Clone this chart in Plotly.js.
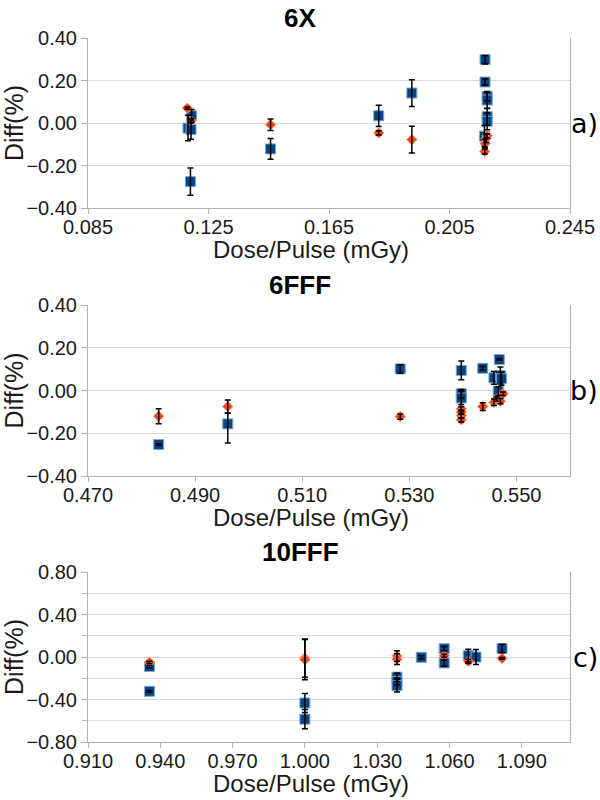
<!DOCTYPE html>
<html>
<head>
<meta charset="utf-8">
<script src="https://cdn.plot.ly/plotly-3.0.1.min.js"></script>
<style>
  html, body { margin: 0; padding: 0; background: #fff; }
  #chart { width: 600px; height: 800px; }
</style>
</head>
<body>
<div id="chart"></div>
<script>
// panel a) 6X
const blueA_x = [0.1182, 0.1192, 0.1194, 0.1190, 0.1456, 0.1815, 0.1925, 0.2168, 0.2168, 0.2175, 0.2175, 0.2175, 0.2175, 0.2166];
const blueA_y = [-0.024, -0.031, 0.034, -0.276, -0.122, 0.034, 0.141, 0.298, 0.193, 0.125, 0.108, 0.030, 0.008, -0.062];
const blueA_e = [0.060, 0.045, 0.030, 0.064, 0.049, 0.050, 0.063, 0.020, 0.015, 0.020, 0.040, 0.040, 0.040, 0.050];
const redA_x = [0.1180, 0.1192, 0.1456, 0.1815, 0.1925, 0.2175, 0.2172, 0.2168, 0.2167];
const redA_y = [0.070, 0.010, -0.008, -0.047, -0.078, -0.060, -0.072, -0.097, -0.134];
const redA_e = [0.005, 0.010, 0.027, 0.010, 0.063, 0.010, 0.020, 0.020, 0.012];

// panel b) 6FFF
const blueB_x = [0.4832, 0.4961, 0.5283, 0.5397, 0.5397, 0.5397, 0.5437, 0.5458, 0.5468, 0.5470, 0.5472, 0.5466];
const blueB_y = [-0.253, -0.156, 0.101, 0.094, -0.015, -0.035, 0.104, 0.059, 0.145, 0.070, 0.055, -0.003];
const blueB_ep = [0.004, 0.050, 0.020, 0.044, 0.020, 0.030, 0.008, 0.030, 0.004, 0.040, 0.030, 0.020];
const blueB_em = [0.004, 0.090, 0.020, 0.044, 0.020, 0.030, 0.008, 0.030, 0.004, 0.040, 0.030, 0.020];
const redB_x = [0.4832, 0.4961, 0.5283, 0.5397, 0.5397, 0.5397, 0.5397, 0.5437, 0.5458, 0.5463, 0.5470, 0.5475];
const redB_y = [-0.120, -0.075, -0.122, -0.086, -0.101, -0.117, -0.137, -0.075, -0.055, -0.040, -0.050, -0.015];
const redB_e = [0.035, 0.031, 0.012, 0.010, 0.010, 0.010, 0.010, 0.018, 0.015, 0.010, 0.012, 0.008];

// panel c) 10FFF
const blueC_x = [0.9355, 0.9355, 1.0000, 1.0000, 1.0382, 1.0382, 1.0382, 1.0483, 1.0578, 1.0578, 1.0678, 1.0710, 1.0818];
const blueC_y = [-0.090, -0.323, -0.433, -0.585, -0.190, -0.230, -0.270, -0.003, 0.078, -0.056, 0.012, 0.000, 0.080];
const blueC_e = [0.010, 0.008, 0.090, 0.090, 0.040, 0.030, 0.060, 0.015, 0.020, 0.030, 0.060, 0.070, 0.040];
const redC_x = [0.9355, 1.0000, 1.0000, 1.0382, 1.0382, 1.0578, 1.0678, 1.0818];
const redC_y = [-0.050, -0.010, -0.025, 0.010, -0.020, 0.012, -0.040, -0.013];
const redC_e = [0.010, 0.180, 0.190, 0.050, 0.050, 0.015, 0.020, 0.008];

const panelTitles = ['6X', '6FFF', '10FFF'];
const panelLabels = ['a)', 'b)', 'c)'];
const xTitle = 'Dose/Pulse (mGy)';
const yTitle = 'Diff(%)';

const blue = '#004586';
const red = '#ff420e';
const font = 'Liberation Sans, Arial, sans-serif';
const textColor = '#1a1a1a';

function errBars(plus, minus) {
  const e = {type: 'data', array: plus, visible: true, color: '#000', thickness: 1.5, width: 3};
  if (minus) { e.symmetric = false; e.arrayminus = minus; }
  return e;
}

function blueTrace(x, y, n) {
  return {
    x: x, y: y, type: 'scatter', mode: 'markers',
    xaxis: 'x' + n, yaxis: 'y' + n,
    marker: {symbol: 'square', size: 10, color: blue, line: {color: '#7fa6cc', width: 1}}
  };
}

function redTrace(x, y, n) {
  return {
    x: x, y: y, type: 'scatter', mode: 'markers',
    xaxis: 'x' + n, yaxis: 'y' + n,
    marker: {symbol: 'diamond', size: 8, color: red, line: {color: '#ff9a7a', width: 1}}
  };
}

// invisible markers, only to draw the error bars on top of the symbols
function errTrace(x, y, ep, em, n) {
  return {
    x: x, y: y, type: 'scatter', mode: 'markers',
    xaxis: 'x' + n, yaxis: 'y' + n,
    marker: {size: 1, opacity: 0},
    error_y: errBars(ep, em)
  };
}

const data = [
  blueTrace(blueA_x, blueA_y, ''),
  redTrace(redA_x, redA_y, ''),
  errTrace(blueA_x, blueA_y, blueA_e, null, ''),
  errTrace(redA_x, redA_y, redA_e, null, ''),
  blueTrace(blueB_x, blueB_y, '2'),
  redTrace(redB_x, redB_y, '2'),
  errTrace(blueB_x, blueB_y, blueB_ep, blueB_em, '2'),
  errTrace(redB_x, redB_y, redB_e, null, '2'),
  blueTrace(blueC_x, blueC_y, '3'),
  redTrace(redC_x, redC_y, '3'),
  errTrace(blueC_x, blueC_y, blueC_e, null, '3'),
  errTrace(redC_x, redC_y, redC_e, null, '3')
];

// plot areas in pixels (top, bottom), shared left/right
const left = 88, right = 570, H = 800, W = 600;
const rows = [[38, 208], [305, 476], [572, 742]];

function xAxis(range, tick0, dtick, anchor) {
  return {
    domain: [left / W, right / W], anchor: anchor,
    range: range, tick0: tick0, dtick: dtick, tickformat: '.3f',
    showgrid: false, zeroline: false, showline: true, linecolor: '#b3b3b3', linewidth: 1,
    ticks: 'outside', ticklen: 5, tickcolor: '#b3b3b3', ticklabelstandoff: -4,
    tickfont: {family: font, size: 20, color: textColor},
    automargin: false, fixedrange: true
  };
}

function yAxis(range, dtick, r, anchor, minor) {
  const ax = {
    domain: [1 - r[1] / H, 1 - r[0] / H], anchor: anchor,
    range: range, tick0: 0, dtick: dtick, tickformat: '.2f',
    showgrid: true, gridcolor: '#d9d9d9', gridwidth: 1,
    zeroline: false, showline: true, mirror: true, linecolor: '#b3b3b3', linewidth: 1,
    ticks: 'outside', ticklen: 6, tickcolor: '#b3b3b3',
    tickfont: {family: font, size: 20, color: textColor},
    title: {text: yTitle, font: {family: font, size: 25, color: textColor}, standoff: 0},
    automargin: false, fixedrange: true
  };
  if (minor) ax.minor = {dtick: minor, showgrid: true, gridcolor: '#d9d9d9', ticks: 'outside', ticklen: 5, tickcolor: '#b3b3b3'};
  return ax;
}

const annotations = [];
rows.forEach(function (r, i) {
  annotations.push({
    xref: 'paper', yref: 'paper', x: 0.5, y: 1 - (r[0] - 20) / H,
    text: '<b>' + panelTitles[i] + '</b>', showarrow: false,
    font: {family: font, size: 26, color: '#000'}, xanchor: 'center', yanchor: 'middle'
  });
  annotations.push({
    xref: 'paper', yref: 'paper', x: 311 / W, y: 1 - (r[1] + 41) / H,
    text: xTitle, showarrow: false,
    font: {family: font, size: 24, color: textColor}, xanchor: 'center', yanchor: 'middle'
  });
  annotations.push({
    xref: 'paper', yref: 'paper', x: 1, y: 1 - ((r[0] + r[1]) / 2) / H,
    text: panelLabels[i], showarrow: false,
    font: {family: 'DejaVu Sans, sans-serif', size: 27, color: '#000'}, xanchor: 'right', yanchor: 'middle'
  });
});

const layout = {
  width: W, height: H,
  margin: {l: 0, r: 0, t: 0, b: 0},
  paper_bgcolor: '#fff', plot_bgcolor: '#fff',
  showlegend: false,
  xaxis: xAxis([0.085, 0.245], 0.085, 0.04, 'y'),
  yaxis: yAxis([-0.4, 0.4], 0.2, rows[0], 'x'),
  xaxis2: xAxis([0.470, 0.560], 0.470, 0.02, 'y2'),
  yaxis2: yAxis([-0.4, 0.4], 0.2, rows[1], 'x2'),
  xaxis3: xAxis([0.910, 1.110], 0.910, 0.03, 'y3'),
  yaxis3: yAxis([-0.8, 0.8], 0.4, rows[2], 'x3', 0.2),
  annotations: annotations
};

Plotly.newPlot('chart', data, layout, {displayModeBar: false, staticPlot: true});
</script>
</body>
</html>
